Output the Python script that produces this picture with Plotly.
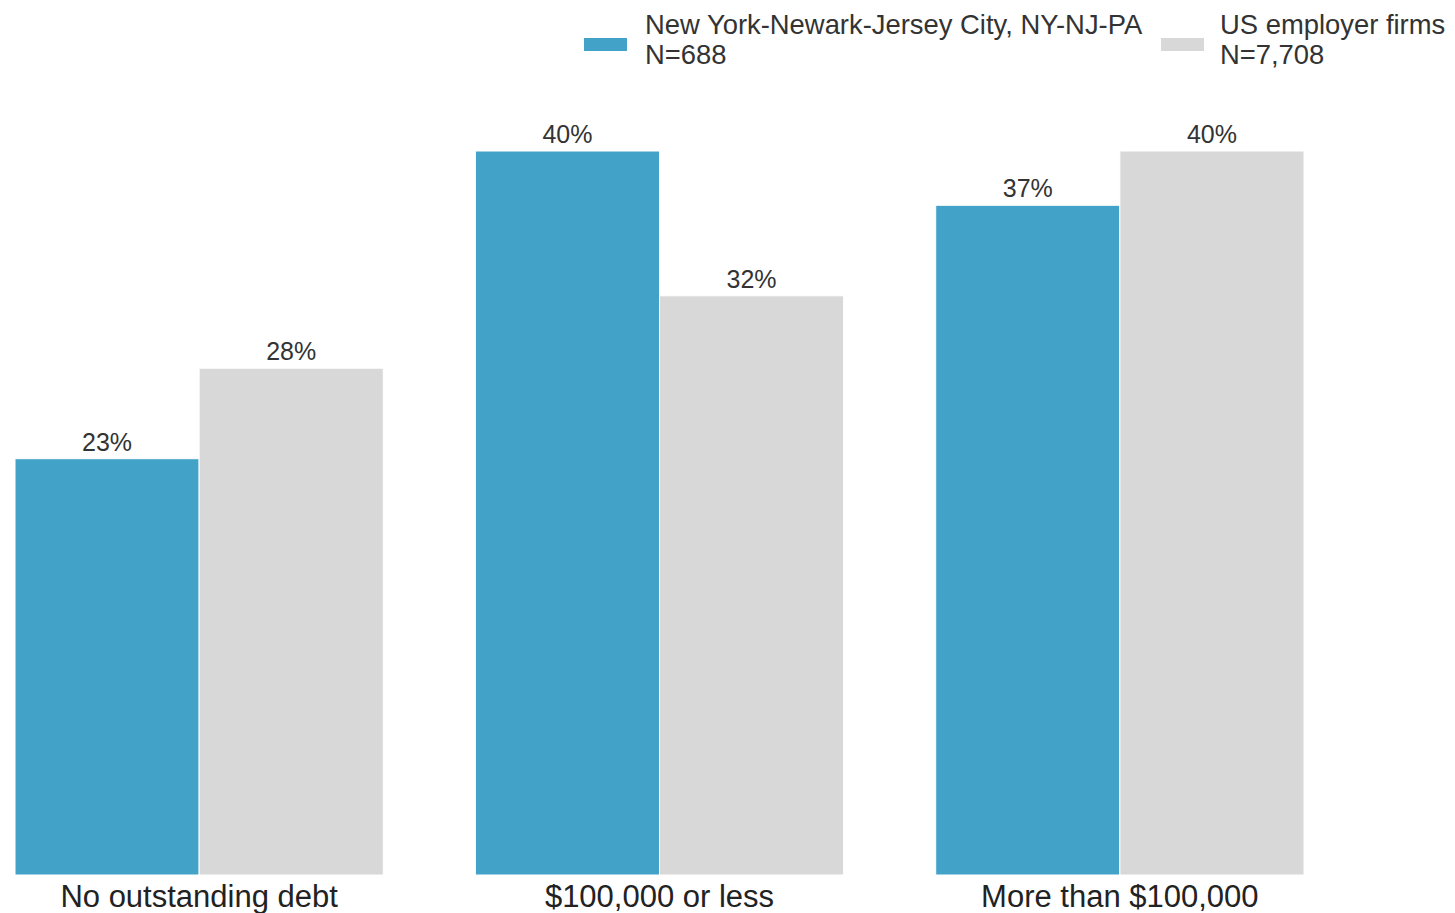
import plotly.graph_objects as go

categories = ["No outstanding debt", "$100,000 or less", "More than $100,000"]
legend_line1 = ["New York-Newark-Jersey City, NY-NJ-PA", "US employer firms"]
legend_line2 = ["N=688", "N=7,708"]
ny_values = [23, 40, 37]
us_values = [28, 32, 40]
colors = ["#43A2C8", "#D8D8D8"]

FONT = "Liberation Sans, Arial, sans-serif"
W, H = 1455, 913
OFF = 8  # page body margin
# target plot area in screen pixels
SX0, SX1, SY0, SY1 = 15, 1304, 151, 875
ML = SX0 - OFF
MR = W - (SX1 - OFF)
MT = SY0 - OFF
MB = H - (SY1 - OFF)
PW, PH = SX1 - SX0, SY1 - SY0

def px_x(x):
    return (x - SX0) / PW

def px_y(y):
    return (SY1 - y) / PH

fig = go.Figure()
for name, vals, col in zip(legend_line1, [ny_values, us_values], colors):
    fig.add_trace(go.Bar(
        x=list(range(len(categories))), y=vals, name=name,
        marker=dict(color=col, line=dict(color="white", width=1)),
        text=[f"{v}%" for v in vals], textposition="outside",
        textfont=dict(size=25, color="#333333", family=FONT),
        cliponaxis=False, showlegend=False,
    ))

# manual legend
legend_items = [(584, 627, 643), (1161, 1204, 1218)]
for (x0, x1, tx), l1, l2, col in zip(legend_items, legend_line1, legend_line2, colors):
    fig.add_shape(type="rect", xref="paper", yref="paper",
                  x0=px_x(x0), x1=px_x(x1), y0=px_y(51), y1=px_y(38),
                  fillcolor=col, line=dict(width=0))
    for txt, ty in ((l1, 24), (l2, 55)):
        fig.add_annotation(xref="paper", yref="paper", x=px_x(tx), y=px_y(ty),
                           text=txt, showarrow=False, xanchor="left", yanchor="middle",
                           align="left", font=dict(size=27.4, color="#333333", family=FONT))

fig.update_layout(
    width=W, height=H,
    margin=dict(l=ML, r=MR, t=MT, b=MB, autoexpand=False),
    paper_bgcolor="white", plot_bgcolor="white",
    barmode="group", bargap=0.2, bargroupgap=0,
    font=dict(family=FONT, color="#333333"),
    xaxis=dict(tickmode="array", tickvals=list(range(len(categories))), ticktext=categories,
               range=[-0.4, 2.4], showgrid=False, zeroline=False, showline=False,
               tickfont=dict(size=31, color="#222222", family=FONT), ticks=""),
    yaxis=dict(range=[0, 40], visible=False, showgrid=False, zeroline=False),
)

fig.write_html("out.html")
